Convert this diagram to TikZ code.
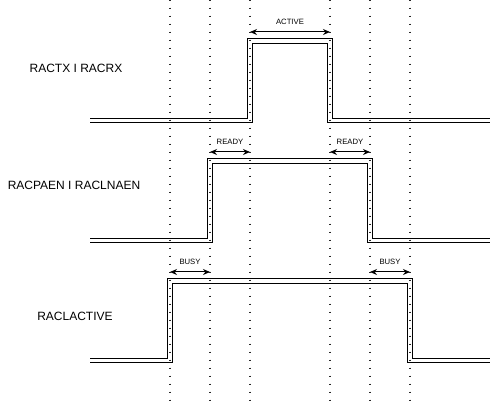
\documentclass[tikz,border=0pt]{standalone}
\usepackage{fontspec}
\setmainfont{Liberation Sans}
\usetikzlibrary{arrows.meta}
\begin{document}
\begin{tikzpicture}[x=1pt,y=-1pt,
  sig/.style={draw=black,line width=1pt,double=white,double distance=3.5pt},
  grid/.style={draw=black!85,line width=1.3pt,dash pattern=on 1.3pt off 6.7pt,dash phase=-7.7pt},
  span/.style={draw=black,line width=1pt,{Stealth[length=7pt,width=6pt]}-{Stealth[length=7pt,width=6pt]}},
  siglabel/.style={font=\fontsize{12}{14}\selectfont,inner sep=0pt},
  spanlabel/.style={font=\fontsize{7.7}{9}\selectfont,inner sep=0pt}]
\useasboundingbox (0,0) rectangle (491,403);
\fill[white] (0,0) rectangle (491,403);
% signals
\draw[sig] (90,120.5) -- (250,120.5) -- (250,41) -- (330,41) -- (330,120.5) -- (490,120.5);
\draw[sig] (90,240.5) -- (210,240.5) -- (210,161) -- (370,161) -- (370,240.5) -- (490,240.5);
\draw[sig] (90,360.5) -- (170,360.5) -- (170,281) -- (410,281) -- (410,360.5) -- (490,360.5);
% dotted time markers
\foreach \t/\n in {170/a,210/b,250/c,330/d,370/e,410/f}{
  \coordinate (top\n) at (\t,0);
  \coordinate (bot\n) at (\t,403);
  \draw[grid] (top\n) -- (bot\n);
}
% labels
\node[siglabel] (l1) at (76,68) {RACTX I RACRX};
\node[siglabel] (l2) at (74,185) {RACPAEN I RACLNAEN};
\node[siglabel] (l3) at (75,316) {RACLACTIVE};
% spans
\coordinate (a1) at (250,32); \coordinate (a2) at (330,32);
\draw[span] (a1) -- (a2);
\node[spanlabel] (active) at (290,22) {ACTIVE};
\coordinate (r1) at (210,152); \coordinate (r2) at (250,152);
\draw[span] (r1) -- (r2);
\node[spanlabel] (ready1) at (230,141.5) {READY};
\coordinate (r3) at (330,152); \coordinate (r4) at (370,152);
\draw[span] (r3) -- (r4);
\node[spanlabel] (ready2) at (350,141.5) {READY};
\coordinate (b1) at (170,272); \coordinate (b2) at (210,272);
\draw[span] (b1) -- (b2);
\node[spanlabel] (busy1) at (190,261.5) {BUSY};
\coordinate (b3) at (370,272); \coordinate (b4) at (410,272);
\draw[span] (b3) -- (b4);
\node[spanlabel] (busy2) at (390,261.5) {BUSY};
\end{tikzpicture}
\end{document}
